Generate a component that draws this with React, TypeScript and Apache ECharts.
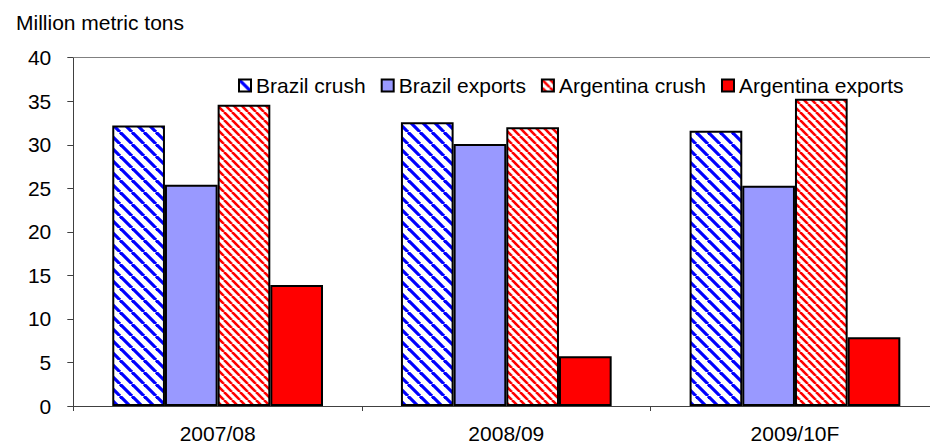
import React, { useEffect, useRef } from "react";
import * as echarts from "echarts";

const categories = ["2007/08", "2008/09", "2009/10F"];
const brazilCrush = [32.2, 32.6, 31.6];
const brazilExports = [25.4, 30.1, 25.3];
const argentinaCrush = [34.6, 32.0, 35.3];
const argentinaExports = [13.9, 5.7, 7.9];
const yTicks = { min: 0, max: 40, interval: 5 };

function makeStripe(color: string, period: number, lw: number) {
  const c = document.createElement("canvas");
  c.width = period;
  c.height = period;
  const ctx = c.getContext("2d")!;
  ctx.fillStyle = "#ffffff";
  ctx.fillRect(0, 0, period, period);
  ctx.strokeStyle = color;
  ctx.lineWidth = lw;
  for (const o of [-period, 0, period]) {
    ctx.beginPath();
    ctx.moveTo(o, 0);
    ctx.lineTo(o + period, period);
    ctx.stroke();
  }
  return c;
}

export default function App() {
  const ref = useRef<HTMLDivElement>(null);
  useEffect(() => {
    if (!ref.current) return;
    const chart = echarts.init(ref.current, null, { renderer: "svg" });
    const bluePat = { image: makeStripe("#0000ff", 12, 3.2), repeat: "repeat" };
    const redPat = { image: makeStripe("#ff0000", 8, 2.6), repeat: "repeat" };
    const font = "Liberation Sans, Arial, sans-serif";
    const border = { borderColor: "#000000", borderWidth: 2 };
    chart.setOption({
      animation: false,
      backgroundColor: "#ffffff",
      textStyle: { fontFamily: font, color: "#000" },
      title: {
        text: "Million metric tons",
        left: 11,
        top: 7,
        textStyle: { fontFamily: font, fontSize: 21, fontWeight: "normal", color: "#000" },
      },
      legend: {
        left: 233,
        top: 70,
        itemWidth: 12,
        itemHeight: 12,
        itemGap: 15,
        icon: "rect",
        itemStyle: { borderColor: "#000", borderWidth: 2 },
        textStyle: { fontFamily: font, fontSize: 21, color: "#000" },
        data: ["Brazil crush", "Brazil exports", "Argentina crush", "Argentina exports"],
      },
      grid: { left: 73.3, top: 57.7, right: 0.7, bottom: 41, containLabel: false },
      xAxis: [
        {
          type: "category",
          data: categories,
          axisLine: { lineStyle: { color: "#404040", width: 1 } },
          axisTick: { show: true, length: 5, lineStyle: { color: "#404040" } },
          axisLabel: { fontFamily: font, fontSize: 21, color: "#000", margin: 17 },
        },
        {
          type: "category",
          data: categories,
          position: "top",
          axisLine: { show: true, lineStyle: { color: "#808080", width: 1 } },
          axisTick: { show: false },
          axisLabel: { show: false },
        },
      ],
      yAxis: {
        type: "value",
        min: yTicks.min,
        max: yTicks.max,
        interval: yTicks.interval,
        axisLine: { show: true, lineStyle: { color: "#404040", width: 1 } },
        axisTick: { show: true, length: 6, lineStyle: { color: "#404040" } },
        splitLine: { show: false },
        axisLabel: { fontFamily: font, fontSize: 21, color: "#000", margin: 22 },
      },
      series: [
        {
          name: "Brazil crush",
          type: "bar",
          data: brazilCrush,
          barGap: "0%",
          barCategoryGap: "27%",
          itemStyle: { color: bluePat, ...border },
        },
        {
          name: "Brazil exports",
          type: "bar",
          data: brazilExports,
          itemStyle: { color: "#9999ff", ...border },
        },
        {
          name: "Argentina crush",
          type: "bar",
          data: argentinaCrush,
          itemStyle: { color: redPat, ...border },
        },
        {
          name: "Argentina exports",
          type: "bar",
          data: argentinaExports,
          itemStyle: { color: "#ff0000", ...border },
        },
      ],
    });
    return () => chart.dispose();
  }, []);
  return (
    <div
      ref={ref}
      style={{ position: "fixed", left: 0, top: 0, width: 940, height: 447 }}
    />
  );
}
